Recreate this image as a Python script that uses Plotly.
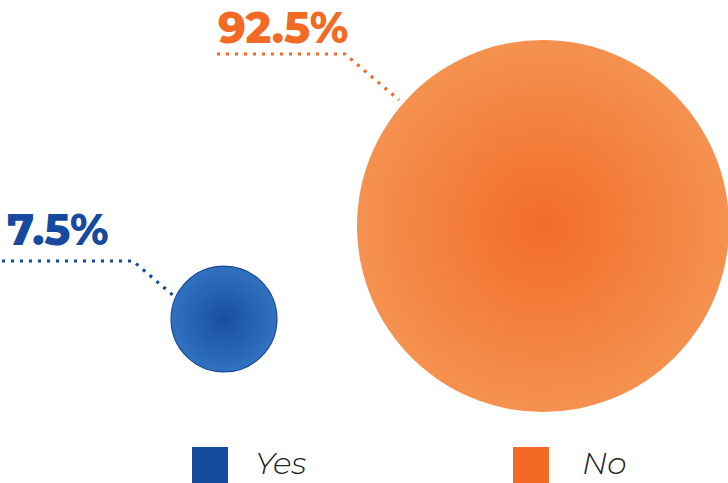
import plotly.graph_objects as go

# ---- data ----
categories = ["Yes", "No"]
values = [7.5, 92.5]
labels = ["7.5%", "92.5%"]

# ---- styles / layout ----
W, H = 728, 483
centers = {"Yes": (224, 319), "No": (543, 226)}
fill = {"Yes": "#1a4fa0", "No": "#f26c29"}
edge = {"Yes": "#3072c0", "No": "#f5914f"}
outline = {"Yes": "#1b4a98", "No": "rgba(0,0,0,0)"}
legend_col = {"Yes": "#164a9e", "No": "#f26a24"}
max_diam = 372
sizeref = 2 * max(values) / max_diam ** 2

fig = go.Figure()

# leader lines (annotation guides)
leaders = {
    "Yes": [(2, 261), (133, 261), (175, 297)],
    "No": [(217, 54), (345, 54), (399, 100)],
}
for c in categories:
    pts = leaders[c]
    fig.add_trace(go.Scatter(
        x=[p[0] for p in pts], y=[p[1] for p in pts], mode="lines",
        line=dict(color=legend_col[c], width=3.2, dash="3px,6px"),
        hoverinfo="skip", showlegend=False))

# bubbles (radial gradient: marker.gradient.color is the centre colour)
for c, v in zip(categories, values):
    cx, cy = centers[c]
    fig.add_trace(go.Scatter(
        x=[cx], y=[cy], mode="markers", name=c,
        marker=dict(size=[v], sizemode="area", sizeref=sizeref,
                    color=edge[c], opacity=1,
                    gradient=dict(type="radial", color=fill[c]),
                    line=dict(color=outline[c], width=1.2)),
        cliponaxis=False, showlegend=False))

# value labels
label_pos = {"Yes": (5, 229), "No": (216, 27)}
for c, t in zip(categories, labels):
    x, y = label_pos[c]
    fig.add_annotation(x=x, y=y, text=t, showarrow=False, xanchor="left",
                       yanchor="middle",
                       font=dict(family="Montserrat, Lato", size=43,
                                 color=legend_col[c], weight=800))

# manual legend
leg_sq = {"Yes": (210, 465), "No": (531, 465)}
leg_txt = {"Yes": 253, "No": 580}
for c in categories:
    x, y = leg_sq[c]
    fig.add_trace(go.Scatter(
        x=[x], y=[y], mode="markers",
        marker=dict(symbol="square", size=36, color=legend_col[c], opacity=1),
        cliponaxis=False, hoverinfo="skip", showlegend=False))
    fig.add_annotation(x=leg_txt[c], y=463, text=c, showarrow=False,
                       xanchor="left", yanchor="middle",
                       font=dict(family="Montserrat, Open Sans", size=31,
                                 color="#222222", style="italic", weight=300))

fig.update_layout(
    width=W, height=H, margin=dict(l=0, r=0, t=0, b=0),
    paper_bgcolor="white", plot_bgcolor="white",
    xaxis=dict(range=[0, W], visible=False, fixedrange=True),
    yaxis=dict(range=[H, 0], visible=False, fixedrange=True),
    showlegend=False,
)

fig.write_html("out.html", config={"displayModeBar": False},
               post_script="document.body.style.margin='0';document.body.style.overflow='hidden';")
